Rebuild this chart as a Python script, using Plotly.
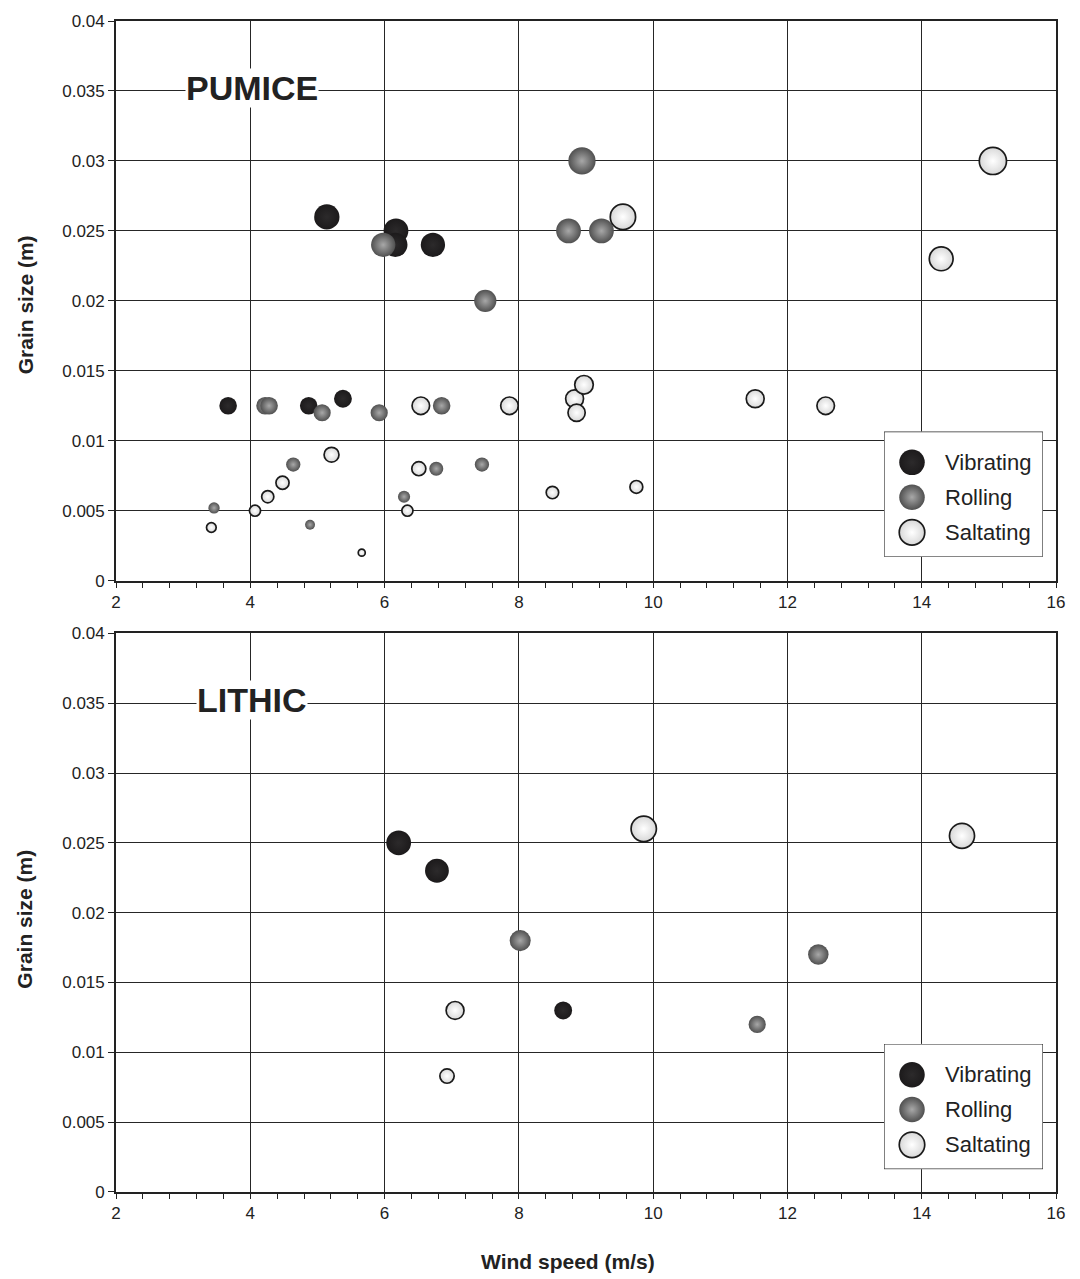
import plotly.graph_objects as go
import numpy as np

# ---------------- data ----------------
categories = ["Vibrating", "Rolling", "Saltating"]

pumice_vib_x = [3.67, 4.87, 5.38, 5.14, 6.17, 6.16, 6.72]
pumice_vib_y = [0.0125, 0.0125, 0.013, 0.026, 0.025, 0.024, 0.024]

pumice_rol_x = [3.46, 4.22, 4.28, 5.07, 4.64, 4.89, 5.98, 5.92, 6.29, 6.77, 6.85, 7.45, 7.50, 8.94, 8.74, 9.23]
pumice_rol_y = [0.0052, 0.0125, 0.0125, 0.012, 0.0083, 0.004, 0.024, 0.012, 0.006, 0.008, 0.0125, 0.0083, 0.020, 0.030, 0.025, 0.025]

pumice_sal_x = [3.42, 4.07, 4.26, 4.48, 5.21, 5.66, 6.51, 6.54, 6.34, 7.86, 8.50, 8.83, 8.86, 8.97, 9.55, 9.75, 11.52, 12.57, 14.29, 15.06]
pumice_sal_y = [0.0038, 0.005, 0.006, 0.007, 0.009, 0.002, 0.008, 0.0125, 0.005, 0.0125, 0.0063, 0.013, 0.012, 0.014, 0.026, 0.0067, 0.013, 0.0125, 0.023, 0.030]

lithic_vib_x = [6.21, 6.78, 8.66]
lithic_vib_y = [0.025, 0.023, 0.013]

lithic_rol_x = [8.02, 11.55, 12.46]
lithic_rol_y = [0.018, 0.012, 0.017]

lithic_sal_x = [9.86, 14.60, 7.05, 6.93]
lithic_sal_y = [0.026, 0.0255, 0.013, 0.0083]

x_ticks = [2, 4, 6, 8, 10, 12, 14, 16]
y_tickvals = [0, 0.005, 0.01, 0.015, 0.02, 0.025, 0.03, 0.035, 0.04]
y_ticktext = ["0", "0.005", "0.01", "0.015", "0.02", "0.025", "0.03", "0.035", "0.04"]

panel_labels = ["PUMICE", "LITHIC"]

# ---------------- styles ----------------
FONT = "Liberation Sans, Arial, sans-serif"
TXT = "#222222"
GRID = "#262626"
W, H = 1080, 1279
ML, MR, MT, MB = 116, 24, 14, 87
PW, PH = W - ML - MR, H - MT - MB


def pxx(px):
    return (px - ML) / PW


def pxy(py):
    return (H - MB - py) / PH


styles = {
    "Vibrating": dict(color="#1c1a1b", gradient=dict(type="radial", color="#2c2a2b"),
                      line=dict(width=0, color="#1c1a1b")),
    "Rolling": dict(color="#505050", gradient=dict(type="radial", color="#a8a8a8"),
                    line=dict(width=0, color="#505050")),
    "Saltating": dict(color="#d8d8d8", gradient=dict(type="radial", color="#ffffff"),
                      line=dict(width=1.7, color="#1a1a1a")),
}


def sizes(yvals):
    return [157 * np.sqrt(v) for v in yvals]


fig = go.Figure()

panels = [
    ("x", "y", [(pumice_vib_x, pumice_vib_y), (pumice_rol_x, pumice_rol_y), (pumice_sal_x, pumice_sal_y)]),
    ("x2", "y2", [(lithic_vib_x, lithic_vib_y), (lithic_rol_x, lithic_rol_y), (lithic_sal_x, lithic_sal_y)]),
]

for xa, ya, series in panels:
    for cat, (xs, ys) in zip(categories, series):
        st = styles[cat]
        fig.add_trace(go.Scatter(
            x=xs, y=ys, mode="markers", name=cat, showlegend=False,
            xaxis=xa, yaxis=ya,
            marker=dict(size=sizes(ys), sizemode="diameter", color=st["color"],
                        gradient=st["gradient"], line=st["line"], opacity=1),
            cliponaxis=False, hoverinfo="x+y+name",
        ))

# ---------------- custom legends (aux axes in pixel offsets) ----------------
legend_boxes = [(884, 427, 1043, 553), (884, 1043, 1043, 1169)]
legend_item_offsets = [31, 66, 101.5]
aux = [("x3", "y3"), ("x4", "y4")]

shapes = []
annotations = []
for (x0, y0, x1, y1), (xa, ya) in zip(legend_boxes, aux):
    shapes.append(dict(type="rect", xref=xa, yref=ya,
                       x0=0, x1=x1 - x0, y0=0, y1=y1 - y0,
                       line=dict(color="#2a2a2a", width=1.2), fillcolor="white", layer="below"))
    for cat, off in zip(categories, legend_item_offsets):
        st = styles[cat]
        fig.add_trace(go.Scatter(
            x=[28], y=[off], mode="markers", showlegend=False, xaxis=xa, yaxis=ya,
            marker=dict(size=25.5, color=st["color"], gradient=st["gradient"], line=st["line"]),
            hoverinfo="skip", cliponaxis=False,
        ))
        annotations.append(dict(x=59, y=off, xref=xa, yref=ya, text=cat, showarrow=False,
                                xanchor="left", yanchor="middle",
                                font=dict(family=FONT, size=22, color=TXT)))

# panel labels
for (xa, ya), lab in zip([("x", "y"), ("x2", "y2")], panel_labels):
    annotations.append(dict(x=4.02, y=0.0352, xref=xa, yref=ya, text="<b>%s</b>" % lab,
                            showarrow=False, bgcolor="white", borderpad=0,
                            font=dict(family=FONT, size=34, color=TXT)))

# axis titles
for cy in [300, 918]:
    annotations.append(dict(x=pxx(25), y=pxy(cy), xref="paper", yref="paper",
                            text="<b>Grain size (m)</b>", textangle=-90, showarrow=False,
                            xanchor="center", yanchor="middle",
                            font=dict(family=FONT, size=21, color=TXT)))
annotations.append(dict(x=pxx(568), y=pxy(1262), xref="paper", yref="paper",
                        text="<b>Wind speed (m/s)</b>", showarrow=False,
                        xanchor="center", yanchor="middle",
                        font=dict(family=FONT, size=21, color=TXT)))

xcommon = dict(range=[2, 16], tickvals=x_ticks, showgrid=True, gridcolor=GRID, gridwidth=1,
               showline=True, linecolor="#222222", linewidth=1.7, mirror=True,
               ticks="outside", ticklen=5, tickcolor="#222222", tickwidth=1,
               minor=dict(dtick=0.4, tick0=2, ticks="outside", ticklen=5, tickcolor="#222222",
                          tickwidth=1, showgrid=False),
               tickfont=dict(family=FONT, size=17, color=TXT), zeroline=False, fixedrange=True)
ycommon = dict(range=[0, 0.04], tickvals=y_tickvals, ticktext=y_ticktext, showgrid=True,
               gridcolor=GRID, gridwidth=1, showline=True, linecolor="#222222",
               linewidth=1.7, mirror=True, ticks="outside", ticklen=6, tickcolor="#222222",
               tickfont=dict(family=FONT, size=17, color=TXT), zeroline=False, fixedrange=True)

top_dom = [pxy(577), pxy(14)]
bot_dom = [pxy(1192), pxy(630)]

fig.update_layout(
    width=W, height=H,
    margin=dict(l=ML, r=MR, t=MT, b=MB, pad=0),
    paper_bgcolor="white", plot_bgcolor="white",
    font=dict(family=FONT, color=TXT),
    showlegend=False,
    xaxis=dict(xcommon, domain=[0, 1], anchor="y"),
    yaxis=dict(ycommon, domain=top_dom, anchor="x"),
    xaxis2=dict(xcommon, domain=[0, 1], anchor="y2"),
    yaxis2=dict(ycommon, domain=bot_dom, anchor="x2"),
    xaxis3=dict(domain=[pxx(884), pxx(1043)], range=[0, 159], visible=False, anchor="y3", fixedrange=True),
    yaxis3=dict(domain=[pxy(553), pxy(427)], range=[126, 0], visible=False, anchor="x3", fixedrange=True),
    xaxis4=dict(domain=[pxx(884), pxx(1043)], range=[0, 159], visible=False, anchor="y4", fixedrange=True),
    yaxis4=dict(domain=[pxy(1169), pxy(1043)], range=[126, 0], visible=False, anchor="x4", fixedrange=True),
    shapes=shapes,
    annotations=annotations,
)

fig.write_html("out.html")
